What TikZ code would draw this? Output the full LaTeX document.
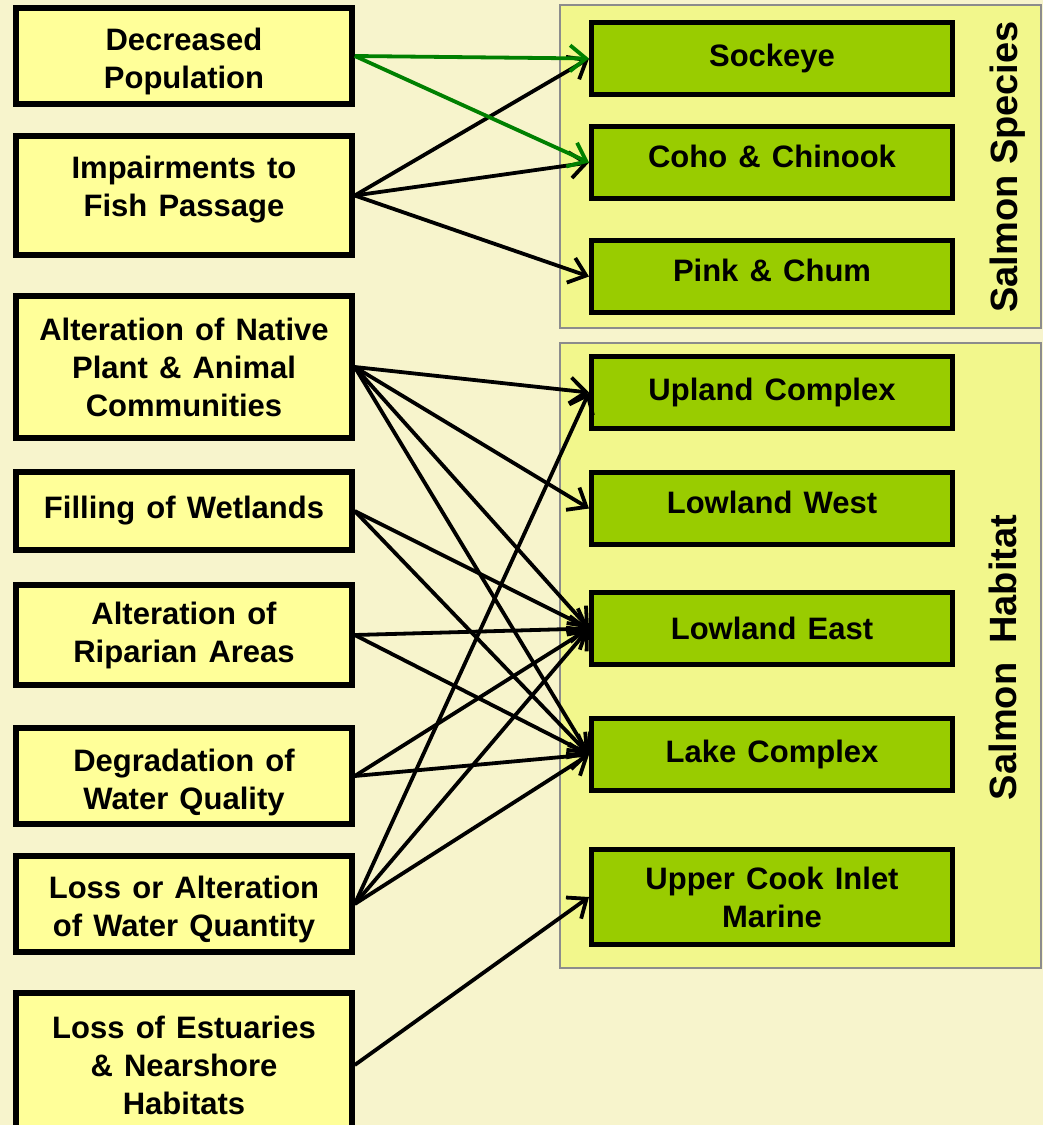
\documentclass[tikz,border=0pt]{standalone}
\usepackage{fontspec}
\setmainfont{Liberation Sans}
\usetikzlibrary{arrows.meta}

\definecolor{pagebg}{HTML}{F7F4CC}
\definecolor{groupfill}{HTML}{F2F78C}
\definecolor{groupline}{HTML}{8C8C8C}
\definecolor{threatfill}{HTML}{FFFF99}
\definecolor{targetfill}{HTML}{99CC00}
\definecolor{linkgreen}{HTML}{008000}

\newcommand\boxtextfont{\fontsize{31}{38}\selectfont\bfseries\spaceskip=0.36em\relax}
\newcommand\grouptextfont{\fontsize{38}{44}\selectfont\bfseries}
% invisible struts that nudge a label up or down inside its box
\newcommand\tallline[1]{\rule{0pt}{#1}}
\newcommand\deepline[1]{\rule[-#1]{0pt}{0pt}}

\begin{document}
\begin{tikzpicture}[x=1pt,y=-1pt,
  threat/.style={draw=black, line width=5.5pt, fill=threatfill,
    minimum width=336pt, align=center, inner sep=0pt, font=\boxtextfont},
  target/.style={draw=black, line width=5pt, fill=targetfill,
    minimum width=361pt, minimum height=72pt, align=center, inner sep=0pt,
    font=\boxtextfont},
  group/.style={draw=groupline, line width=2pt, fill=groupfill},
  grouptitle/.style={rotate=90, anchor=base, font=\grouptextfont},
  link/.style={draw=black, line width=3.8pt,
    -{Straight Barb[length=16pt,width=26pt]}},
  greenlink/.style={link, draw=linkgreen},
]
\useasboundingbox (0,0) rectangle (1043,1125);
\fill[pagebg] (0,0) rectangle (1043,1125);
\begin{scope}
\clip (0,0) rectangle (1043,1125);

% grouping panels
\draw[group] (560,5) rectangle (1041,328);
\draw[group] (560,343) rectangle (1041,968);
\node[grouptitle] (tSpecies) at (1017,167) {Salmon Species};
\node[grouptitle] (tHabitat) at (1016,657.5) {Salmon\hspace{19pt}Habitat};

% stressors
\node[threat, minimum height=96pt]  (b1) at (184,56)    {\tallline{33pt}Decreased\\Population};
\node[threat, minimum height=119pt] (b2) at (184,195.5) {Impairments to\\Fish Passage\deepline{18.5pt}};
\node[threat, minimum height=142pt] (b3) at (184,367)   {Alteration of Native\\Plant \& Animal\\Communities};
\node[threat, minimum height=78pt]  (b4) at (184,511)   {Filling of Wetlands};
\node[threat, minimum height=100pt] (b5) at (184,635)   {Alteration of\\Riparian Areas};
\node[threat, minimum height=96pt]  (b6) at (184,776)   {\tallline{35pt}Degradation of\\Water Quality};
\node[threat, minimum height=96pt]  (b7) at (184,904)   {\tallline{33pt}Loss or Alteration\\of Water Quantity};
\node[threat, minimum height=144pt] (b8) at (184,1065)  {Loss of Estuaries\\\& Nearshore\\Habitats};

% species and habitats
\node[target] (r1) at (772,58.5)  {Sockeye};
\node[target] (r2) at (772,162.5) {Coho \& Chinook\deepline{12pt}};
\node[target] (r3) at (772,276.5) {Pink \& Chum\deepline{12pt}};
\node[target] (r4) at (772,392.5) {Upland Complex};
\node[target] (r5) at (772,508.5) {Lowland West\deepline{12pt}};
\node[target] (r6) at (772,628.5) {Lowland East};
\node[target] (r7) at (772,754.5) {Lake Complex};
\node[target, minimum height=95pt] (r8) at (772,897) {Upper Cook Inlet\\Marine};

% stressor -> target links
\foreach \s/\t in {b2/r1, b2/r2, b2/r3,
                   b3/r4, b3/r5, b3/r6, b3/r7,
                   b4/r6, b4/r7,
                   b5/r6, b5/r7,
                   b6/r6, b6/r7,
                   b7/r4, b7/r6, b7/r7,
                   b8/r8}
  \draw[link] (\s.east) -- (\t.west);
\foreach \t in {r1, r2}
  \draw[greenlink] (b1.east) -- (\t.west);
\end{scope}
\end{tikzpicture}
\end{document}
